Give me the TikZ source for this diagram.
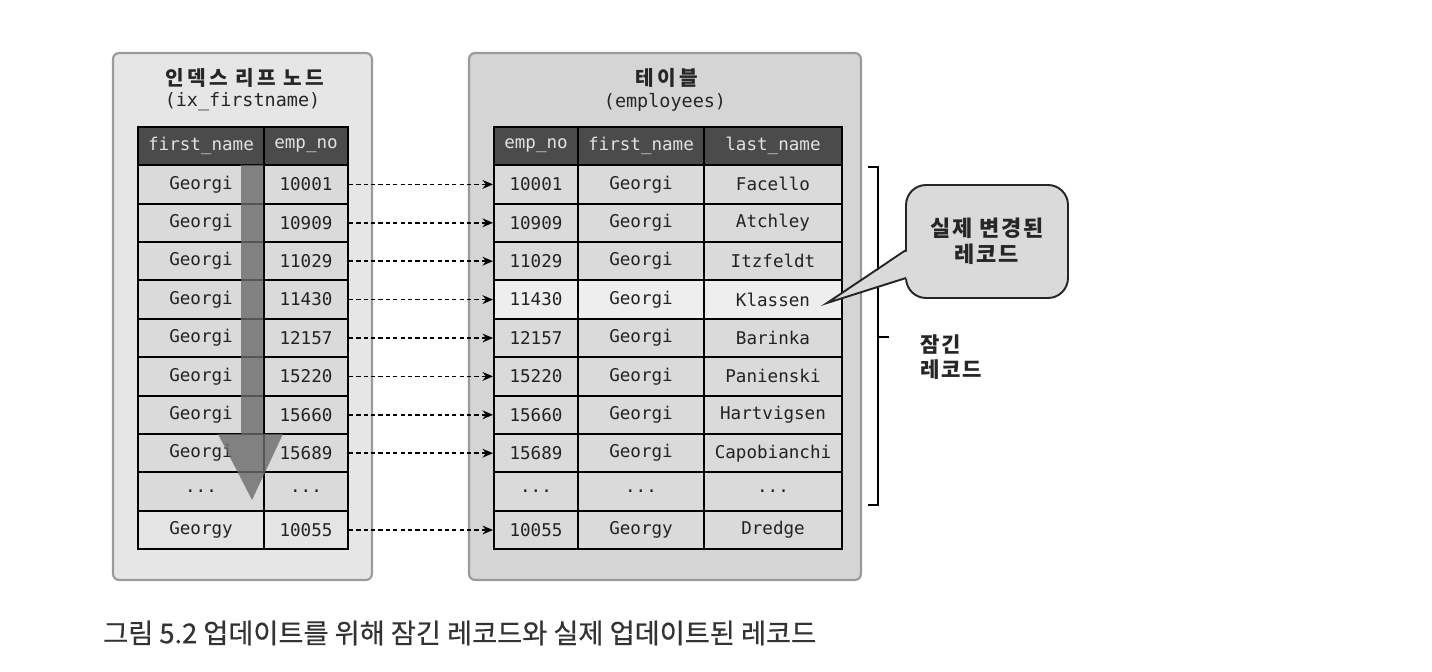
\documentclass[tikz,border=0pt]{standalone}
\usepackage{fontspec}
\setmonofont{DejaVu Sans Mono}
\newfontfamily\kr{Noto Sans CJK KR}
\newfontfamily\krwide[LetterSpace=8]{Noto Sans CJK KR}
\newfontfamily\krtitle[LetterSpace=16]{Noto Sans CJK KR}
\newfontfamily\krcap[FakeBold=0.6]{Noto Sans CJK KR}
\usepackage{tikz}
\usetikzlibrary{positioning}
\usetikzlibrary{arrows.meta}
\usetikzlibrary{calc}

\definecolor{leftpanelgray}{HTML}{E6E6E6}
\definecolor{rightpanelgray}{HTML}{D5D5D5}
\definecolor{panelline}{HTML}{9A9A9A}
\definecolor{cellgray}{HTML}{DADADA}
\definecolor{lightcell}{HTML}{E4E4E4}
\definecolor{hilite}{HTML}{EEEEEE}
\definecolor{headgray}{HTML}{4B4B4B}
\definecolor{headtext}{HTML}{E2E2E2}
\definecolor{celltext}{HTML}{222222}
\definecolor{captiongray}{HTML}{333333}

\newcommand{\threedots}{...}

\begin{document}
\begin{tikzpicture}
  [x=0.02cm,y=-0.02cm,
  panel/.style={draw=panelline,line width=1.2pt,rounded corners=0.12cm,minimum width=5.18cm,minimum height=10.54cm,inner sep=0pt},
  cell/.style={draw=black,line width=1.1pt,fill=cellgray,inner sep=0pt,minimum height=0.768cm,text=celltext,font=\ttfamily\fontsize{10}{12}\selectfont},
  head/.style={cell,fill=headgray,text=headtext},
  wide/.style={minimum width=2.52cm},
  narrow/.style={minimum width=1.68cm},
  widest/.style={minimum width=2.76cm},
  title/.style={text=black!85,font=\krtitle\bfseries\fontsize{11.5}{13}\selectfont},
  subtitle/.style={text=black!85,font=\ttfamily\fontsize{10.5}{12}\selectfont},
  conn/.style={dash pattern=on 2.4pt off 1.8pt,line width=0.85pt,-{Stealth[length=6pt,width=5pt]}},
  bigarrow/.style={fill=black!58,opacity=0.8},
  bracket/.style={line width=1.1pt},
  note/.style={text=black!85,font=\krwide\bfseries\fontsize{12}{14.2}\selectfont}]
  \useasboundingbox (0,0) rectangle (1432,672);

  % panels
  \node[panel,fill=leftpanelgray] (indexpanel) at (242.5,316.5) {};
  \node[panel,fill=rightpanelgray,minimum width=7.84cm] (tablepanel) at (665,316.5) {};

  \node[title] (indextitle) at (245,78) {인덱스 리프 노드};
  \node[subtitle] (indexsub) at (242.5,102) {(ix\_firstname)};
  \node[title] (tabletitle) at (667,78) {테이블};
  \node[subtitle] (tablesub) at (665,102) {(employees)};

  % header rows
  \node[head,wide] (Lhfn) at (201,146) {first\_name};
  \node[head,narrow] (Lhno) at (306,146) {emp\_no};
  \node[head,narrow] (Rhno) at (536,146) {emp\_no};
  \node[head,wide] (Rhfn) at (641,146) {first\_name};
  \node[head,widest] (Rhln) at (773,146) {last\_name};

  % rows
  \foreach \i/\fn/\no/\ln/\lc/\rc in {1/Georgi/10001/Facello/cellgray/cellgray,
      2/Georgi/10909/Atchley/cellgray/cellgray,
      3/Georgi/11029/Itzfeldt/cellgray/cellgray,
      4/Georgi/11430/Klassen/cellgray/hilite,
      5/Georgi/12157/Barinka/cellgray/cellgray,
      6/Georgi/15220/Panienski/cellgray/cellgray,
      7/Georgi/15660/Hartvigsen/cellgray/cellgray,
      8/Georgi/15689/Capobianchi/cellgray/cellgray,
      9/\threedots/\threedots/\threedots/cellgray/cellgray,
      10/Georgy/10055/Dredge/lightcell/cellgray} {
    \node[cell,wide,fill=\lc] (Lfn\i) at (201,{146+38.4*\i}) {\fn};
    \node[cell,narrow,fill=\lc] (Lno\i) at (306,{146+38.4*\i}) {\no};
    \node[cell,narrow,fill=\rc] (Rno\i) at (536,{146+38.4*\i}) {\no};
    \node[cell,wide,fill=\rc] (Rfn\i) at (641,{146+38.4*\i}) {\fn};
    \node[cell,widest,fill=\rc] (Rln\i) at (773,{146+38.4*\i}) {\ln};
    \ifnum\i=9\else
      \draw[conn] (Lno\i.east) -- (Rno\i.west);
    \fi
  }

  % scan direction
  \fill[bigarrow] (241,165) -- (263,165) -- (263,434) -- (283,434) -- (252,500) -- (218,434) -- (241,434) -- cycle;

  % locked range
  \coordinate (brtop) at (868,167);
  \coordinate (brbot) at (868,505);
  \coordinate (brmid) at (878,337);
  \draw[bracket] (brtop) -- ++(10,0) |- (brbot);
  \draw[bracket] (brmid) -- ++(11,0);
  \node[note,anchor=west,align=left] (locked) at (914,357) {잠긴\\레코드};

  % callout
  \coordinate (tip) at (827,303);
  \node[draw=black!85,line width=1.1pt,fill=cellgray,rounded corners=0.4cm,minimum width=3.24cm,minimum height=2.26cm] (changed) at (987,241.5) {};
  \fill[cellgray] (909,250) -- (tip) -- (909,278) -- cycle;
  \draw[line width=1.1pt,draw=black!85] (906,250) -- (tip) -- (906,278);
  \node[note,align=center,font=\krwide\bfseries\fontsize{12.5}{15}\selectfont] (changedtext) at (changed) {실제 변경된\\레코드};

  \node[anchor=west,text=captiongray,font=\krcap\fontsize{15.5}{17}\selectfont] (caption) at (97,633) {그림 5.2 업데이트를 위해 잠긴 레코드와 실제 업데이트된 레코드};
\end{tikzpicture}
\end{document}
